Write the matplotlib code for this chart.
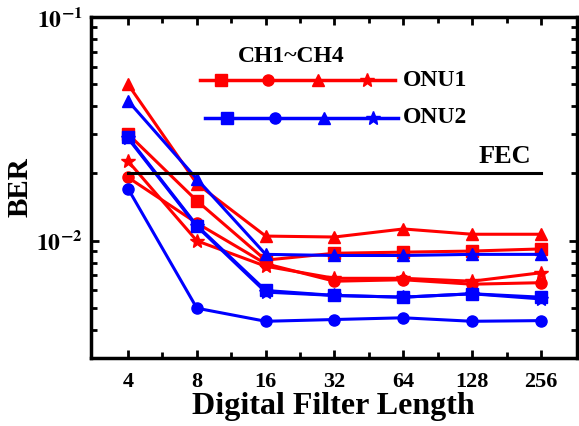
import matplotlib
matplotlib.use('Agg')
import matplotlib.pyplot as plt
from matplotlib.ticker import FixedLocator, LogLocator, NullFormatter

plt.rcParams['font.family'] = ['Liberation Serif', 'DejaVu Serif']
plt.rcParams['font.weight'] = 'bold'
plt.rcParams['mathtext.fontset'] = 'stix'

filter_len = ['4', '8', '16', '32', '64', '128', '256']

# ONU1 (red), CH1..CH4
onu1_ch1 = [0.0300, 0.0151, 0.0082, 0.0088, 0.0089, 0.0090, 0.0092]
onu1_ch2 = [0.0192, 0.0120, 0.0079, 0.0066, 0.0067, 0.0064, 0.0065]
onu1_ch3 = [0.0500, 0.0180, 0.0105, 0.0104, 0.0113, 0.0107, 0.0107]
onu1_ch4 = [0.0227, 0.0100, 0.0077, 0.0068, 0.0068, 0.0066, 0.0072]

# ONU2 (blue), CH1..CH4
onu2_ch1 = [0.0290, 0.0117, 0.0060, 0.0057, 0.0056, 0.0058, 0.0056]
onu2_ch2 = [0.0171, 0.0050, 0.00437, 0.00445, 0.00453, 0.00437, 0.0044]
onu2_ch3 = [0.0422, 0.0189, 0.0087, 0.0086, 0.0086, 0.0087, 0.0087]
onu2_ch4 = [0.0287, 0.0116, 0.0059, 0.0057, 0.0056, 0.0058, 0.0055]

fec = 2e-2

markers = ['s', 'o', '^', '*']
x = list(range(len(filter_len)))

fig = plt.figure(figsize=(5.79, 4.26), dpi=100)
ax = fig.add_axes([0.157, 0.16, 0.839, 0.80])

for ys, m in zip([onu1_ch1, onu1_ch2, onu1_ch3, onu1_ch4], markers):
    ax.plot(x, ys, color='#ff0000', marker=m, lw=2.2,
            ms=10 if m == '*' else 8)
for ys, m in zip([onu2_ch1, onu2_ch2, onu2_ch3, onu2_ch4], markers):
    ax.plot(x, ys, color='#0000ff', marker=m, lw=2.2,
            ms=10 if m == '*' else 8)

ax.plot([x[0], x[-1]], [fec, fec], color='black', lw=2.2)
ax.text(0.798, 0.59, 'FEC', transform=ax.transAxes, fontsize=19,
        fontweight='bold', va='center')

# custom legend
ax.text(0.303, 0.885, 'CH1~CH4', transform=ax.transAxes, fontsize=17,
        fontweight='bold', va='center')
ax.plot([0.224, 0.626], [0.815, 0.815], color='#ff0000', lw=2.5,
        transform=ax.transAxes, clip_on=False)
for px, m in zip([0.267, 0.364, 0.467, 0.568], markers):
    ax.plot([px], [0.815], color='#ff0000', marker=m,
            ms=10 if m == '*' else 8, transform=ax.transAxes)
ax.text(0.643, 0.815, 'ONU1', transform=ax.transAxes, fontsize=17,
        fontweight='bold', va='center')
ax.plot([0.235, 0.632], [0.704, 0.704], color='#0000ff', lw=2.5,
        transform=ax.transAxes, clip_on=False)
for px, m in zip([0.280, 0.379, 0.479, 0.580], markers):
    ax.plot([px], [0.704], color='#0000ff', marker=m,
            ms=10 if m == '*' else 8, transform=ax.transAxes)
ax.text(0.643, 0.704, 'ONU2', transform=ax.transAxes, fontsize=17,
        fontweight='bold', va='center')

ax.set_yscale('log')
ax.set_ylim(3e-3, 1e-1)
ax.set_xlim(-0.54, 6.52)
ax.set_xticks(x)
ax.set_xticklabels(filter_len, fontsize=16, fontweight='bold')
ax.xaxis.set_minor_locator(FixedLocator([i + 0.5 for i in range(6)]))
ax.set_yticks([1e-2, 1e-1])
ax.set_yticklabels([r'$\mathbf{10^{-2}}$', r'$\mathbf{10^{-1}}$'], fontsize=17)
ax.yaxis.set_minor_locator(LogLocator(base=10, subs=range(2, 10)))
ax.yaxis.set_minor_formatter(NullFormatter())

ax.tick_params(which='both', direction='in', top=True, right=True, width=2)
ax.tick_params(which='major', length=6)
ax.tick_params(axis='x', which='major', pad=10)
ax.tick_params(axis='y', which='major', pad=6)
ax.tick_params(which='minor', length=4)
for s in ax.spines.values():
    s.set_linewidth(2.5)

ax.set_xlabel('Digital Filter Length', fontsize=23, fontweight='bold', labelpad=0)
ax.set_ylabel('BER', fontsize=21, fontweight='bold', labelpad=2)

fig.savefig('out.png', dpi=100)
